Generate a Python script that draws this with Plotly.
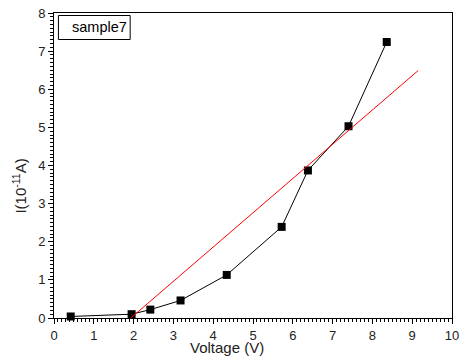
import plotly.graph_objects as go

voltage = [0.42, 1.95, 2.42, 3.18, 4.34, 5.72, 6.38, 7.40, 8.36]
current = [0.04, 0.10, 0.22, 0.46, 1.13, 2.39, 3.87, 5.03, 7.24]
fit_x = [1.93, 9.15]
fit_y = [0.0, 6.49]
x_ticks = list(range(0, 11))
y_ticks = list(range(0, 9))

font = "Liberation Sans, Arial, sans-serif"
W, H = 465, 356
L, R, T, B = 54, 6, 13, 38
PW, PH = W - L - R, H - T - B


def px(x):
    return (x - L) / PW


def py(y):
    return (H - B - y) / PH


fig = go.Figure()
fig.add_trace(go.Scatter(x=voltage, y=current, mode="lines+markers",
                         line=dict(color="black", width=1),
                         marker=dict(symbol="square", size=8, color="black"),
                         showlegend=False, cliponaxis=False))
fig.add_trace(go.Scatter(x=fit_x, y=fit_y, mode="lines",
                         line=dict(color="red", width=1), showlegend=False))

axis_common = dict(showgrid=False, zeroline=False, showline=True, linecolor="black",
                   linewidth=1, mirror=True, ticks="outside", ticklen=5, tickcolor="black",
                   ticklabeloverflow="allow",
                   tickfont=dict(family=font, size=13, color="#222"))

fig.update_xaxes(range=[0, 10], tickvals=x_ticks, **axis_common,
                 minor=dict(ticks="outside", dtick=0.1, ticklen=3, tickcolor="black"))
fig.update_yaxes(range=[0, 8], tickvals=y_ticks, **axis_common,
                 minor=dict(ticks="outside", dtick=0.1, ticklen=3, tickcolor="black"))

# axis titles
fig.add_annotation(x=px(230), y=py(347), xref="paper", yref="paper", xanchor="center", yanchor="middle",
                   text="Voltage (V)", showarrow=False, font=dict(family=font, size=15, color="#222"))
fig.add_annotation(x=px(18), y=py(186), xref="paper", yref="paper", xanchor="center", yanchor="middle",
                   text="I(10<sup>-11</sup>A)", textangle=-90, showarrow=False,
                   font=dict(family=font, size=15, color="#222"))

# sample label box
fig.add_shape(type="rect", xref="paper", yref="paper", x0=px(58.5), x1=px(131.5),
              y0=py(39.5), y1=py(15.5), line=dict(color="black", width=1), fillcolor="white")
fig.add_annotation(x=px(70.5), y=py(27.5), xref="paper", yref="paper", xanchor="left", yanchor="middle",
                   text="sample7", showarrow=False, font=dict(family=font, size=14.5, color="black"))

fig.update_layout(width=W, height=H, paper_bgcolor="white", plot_bgcolor="white",
                  margin=dict(l=L, r=R, t=T, b=B))
fig.write_html("out.html", config={"displayModeBar": False},
               post_script="document.body.style.margin='0';document.body.style.overflow='hidden';")
